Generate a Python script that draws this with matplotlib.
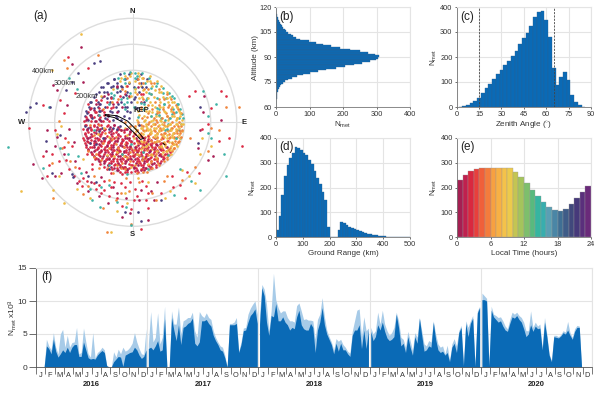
import matplotlib
matplotlib.use('Agg')
import matplotlib.pyplot as plt
from matplotlib.patches import Circle, Polygon
import numpy as np

plt.rcParams['font.family'] = ['Liberation Sans', 'DejaVu Sans']
plt.rcParams['mathtext.fontset'] = 'custom'
plt.rcParams['mathtext.rm'] = 'Liberation Sans'
plt.rcParams['mathtext.default'] = 'rm'

W, H = 600, 393
BLUE = '#0a6ab6'
EDGE = '#2c5f8e'
GRID = '#e4e4e4'
TXT = '#333333'

# ---------- data ----------
alt_bins = list(range(60, 120))
alt_counts = [0,0,0,1,1,2,3,3,4,5,6,8,11,15,20,27,36,48,62,80,102,125,150,178,205,232,258,280,298,305,
              306,295,275,250,220,192,165,140,118,98,72,60,52,44,37,31,26,22,18,14,11,9,7,5,3,2,1,0,0,0]
zen_centers = [2.5,5,7.5,10,12.5,15,17.5,20,22.5,25,27.5,30,32.5,35,37.5,40,42.5,45,47.5,50,52.5,55,57.5,60,62.5,65,67.5,70,72.5,75,77.5,80,82.5,85]
zen_counts = [1,3,8,15,25,38,55,75,92,112,132,150,167,184,203,225,252,277,295,325,360,380,385,347,280,157,90,122,142,108,50,20,7,2]
range_bins = list(range(0, 500, 10))
range_counts = [30,85,168,248,290,320,340,363,358,350,338,333,310,293,265,240,213,180,150,42,0,0,0,28,62,55,48,42,36,32,27,24,20,17,14,11,9,7,5,4,3,2,2,1,1,0,0,0,0,0]
lt_hours = list(range(24))
lt_counts = [231,252,268,276,278,279,278,278,279,279,263,241,217,188,165,140,121,108,105,114,133,157,183,207]
lt_colors = ['#a51f52','#c0204e','#d9283f','#e83f3c','#f0603a','#f47c3c','#f8a040','#f8b044','#f4c24a','#ecca4c','#c4c552','#a4c45c',
             '#7dbf6c','#58ba7e','#36b5a0','#38aeae','#5a9fb4','#4a86a6','#3f6f94','#3f5c88','#40487c','#46397a','#5a2f7c','#6a2a7a']

light_2016 = [0,0,0,0,4.2,3.2,2.6,5.2,3.0,2.0,5.0,5.7,3.0,4.8,3.0,3.7,3.8,6.0,2.0,2.2,5.9,3.8,2.0,1.5,5.2,1.4,2.2,2.5,3.0,2.6,0.3,0,0,2.3,1.5,2.7,2.0,3.0,2.4,2.6,3.0,3.6,5.2,3.8,2.8,2.0,1.9,5.8]
dark_2016 = [0,0,0,0,3.2,2.8,2.0,4.2,2.4,1.5,2.0,2.6,2.2,3.0,2.2,3.0,3.4,3.4,1.6,1.6,3.8,2.6,1.4,1.2,1.3,1.2,1.8,2.2,2.5,2.2,0.2,0,0,0.8,1.2,1.6,1.5,0.1,1.8,2.0,2.2,2.3,3.0,2.6,1.8,1.3,1.6,2.6]
light_2017 = [3.5,8.4,3.8,4.5,8.2,3.5,4.5,9.2,0,0,8.5,6.5,6.5,9.1,5.0,7.0,7.2,7.5,7.5,8.3,5.5,4.5,8.4,7.8,7.5,8.2,7.5,7.2,5.5,4.5,3.8,3.2,3.0,1.8,0,6.6,6.6,6.8,7.5,2.4,3.8,5.9,6.0,8.0,8.9,9.5,10.0,8.0]
dark_2017 = [2.8,3.0,2.6,3.2,4.0,2.4,2.6,7.3,0,0,7.5,5.6,4.0,6.4,3.4,6.0,6.2,6.6,6.8,7.4,3.6,3.2,3.8,7.0,7.0,7.2,6.6,6.2,4.8,4.0,3.4,2.6,2.4,1.4,0,6.4,6.4,6.4,6.6,2.2,3.4,5.5,5.6,6.8,7.8,8.2,8.8,6.6]
light_2018 = [8.0,12.5,11.8,9.5,5.5,8.5,14.2,10.2,9.0,8.2,8.5,8.5,7.5,7.0,7.0,6.8,9.3,9.7,8.5,7.2,7.3,7.1,7.1,7.0,4.2,7.2,8.0,10.5,7.6,5.6,4.6,3.8,2.6,4.3,3.9,4.2,3.4,3.0,2.4,2.1,5.4,7.0,8.6,8.8,4.6,7.6,5.5,5.9]
dark_2018 = [6.5,12.0,10.8,6.8,4.8,7.8,7.6,9.6,7.0,7.0,7.6,6.8,6.4,5.6,6.0,5.8,7.6,8.6,6.4,5.8,5.6,5.6,6.6,6.0,2.2,5.6,6.8,9.0,6.4,5.0,4.2,3.4,2.0,3.6,2.4,3.6,2.6,2.6,2.0,1.6,4.8,5.6,5.6,6.4,2.8,5.6,2.8,5.6]
light_2019 = [6.0,5.0,5.5,8.3,6.5,8.6,6.5,5.5,4.8,5.2,6.0,8.3,7.0,4.5,4.2,3.0,5.4,4.0,2.5,5.2,4.5,7.5,5.5,3.5,3.2,4.0,3.8,7.0,5.0,3.5,3.0,3.2,2.0,3.3,1.0,3.5,4.3,3.2,5.5,6.3,0.4,7.0,6.0,7.0,7.8,0.3,8.5,9.2]
dark_2019 = [5.4,4.0,4.6,6.4,5.6,6.8,5.4,4.4,4.0,4.2,4.6,8.0,6.0,3.2,3.6,2.2,4.6,3.0,1.8,4.6,3.6,7.4,4.8,2.4,2.6,3.2,3.0,6.8,4.2,2.6,2.2,2.4,1.8,2.2,0.8,3.0,3.6,2.2,5.2,6.0,0.2,6.6,4.6,6.6,7.4,0.1,8.2,9.0]
light_2020 = [11.2,10.8,10.4,0.4,9.2,8.0,7.8,7.5,7.6,7.0,6.2,5.8,7.2,8.3,8.0,8.3,7.8,7.5,6.8,5.5,5.5,8.5,6.0,6.8,6.2,6.5,3.0,7.5,5.0,2.0,1.0,4.8,4.8,4.6,4.9,5.5,5.3,6.9,5.2,4.5,5.8,6.3,6.2,0,0,0,0,0]
dark_2020 = [10.2,10.2,10.0,0.2,8.6,7.6,7.2,6.8,7.0,6.2,5.6,5.4,6.6,7.6,7.4,7.8,7.2,6.8,5.8,4.6,5.0,6.4,5.4,6.2,5.8,5.9,2.6,6.8,4.6,1.8,0.8,4.6,4.5,4.4,4.7,5.2,5.0,5.6,4.8,4.2,5.4,6.0,6.0,0,0,0,0,0]
series_light = [light_2016, light_2017, light_2018, light_2019, light_2020]
series_dark = [dark_2016, dark_2017, dark_2018, dark_2019, dark_2020]
years = ['2016', '2017', '2018', '2019', '2020']
months = list('JFMAMJJASOND')

# meteor positions (km east, km north), grouped by local-time colour
maroon = [(-199,291),(-234,224),(-192,156),(-305,143),(-292,124),(-253,67),(-330,-30),(-300,-90),(-265,-120),(-220,-150),(-180,-190),(-120,-210),(-60,-270),(30,-260),(80,-300),(-10,-350),(-170,-265),(-95,-310),(250,-100),(290,-145),(270,40),
 (-20,-180),(-55,-160),(-90,-140),(-120,-110),(-150,-70),(-175,-25),(-160,30),(-130,70),(-95,110),(-60,140),(-150,-110),(-130,-150),(-95,-165),(-60,-185),(-30,-60),(-10,-90),(15,-120),(45,-150),(75,-160),(100,-125),(130,-95),
 (-75,-95),(-105,-60),(-125,-25),(-85,-35),(-60,-70),(-35,-110),(-5,-140),(20,-165),(50,-175),(-140,-40),(-115,-130),(-80,-120),(-50,-130),(-25,-150),(5,-175),(35,-130),(65,-110),(90,-85),(-45,-30),(-20,-25),(-70,-10),(-180,10),(-165,-55),(-150,-95),(-100,-90),(-40,-90),(-15,-115),(10,-95),
 (-165,50),(-175,-60),(-110,-150),(-70,-175),(-40,-170),(30,-185),(60,-140),(-130,-85),(-90,-75),(-120,5),(-145,5),(-60,40),(-40,60),(-15,-60),(-10,-35),(25,-75),(55,-85),(85,-60),
 (-385,-160),(-350,-215),(-300,-205),(-275,-195),(-215,-235),(-160,-230),(-130,-285),(-75,-250),(-25,-290),(25,-300),(70,-265),(95,-230),(-40,-365),(60,-375),(-335,-110),(-290,-55),(-245,-25),(-225,-75),(310,-130),(340,10),(275,100),(260,-30)]
red = [(-247,252),(-170,207),(-221,111),(-346,67),(-279,86),(-266,35),(-400,-20),(-310,-120),(-285,-150),(-245,-180),(-205,-175),(-190,-215),(-150,-235),(-110,-260),(-70,-230),(-30,-250),(10,-255),(50,-245),(-40,-320),(5,-300),(60,-330),(-130,-240),(-90,-285),(-225,-205),(-260,-60),(-235,-90),(240,120),(360,100),(330,-70),(210,-190),(155,-250),(200,-290),(420,-90),(290,-5),
 (-185,-40),(-170,-75),(-155,-120),(-130,-125),(-110,-170),(-75,-150),(-45,-150),(-15,-160),(15,-150),(40,-165),(70,-135),(95,-150),(125,-120),(-178,-10),(-150,-15),(-120,-45),(-95,-75),(-70,-60),(-50,-110),(-30,-130),(0,-115),(25,-100),(50,-120),(80,-115),(110,-105),(-130,-65),(-105,-105),(-85,-130),(-60,-140),(-20,-95),(-5,-75),(20,-140),(45,-100),
 (-165,-95),(-145,-140),(-125,-160),(-100,-180),(-78,-178),(-50,-190),(-22,-190),(8,-188),(35,-178),(62,-168),(90,-170),(115,-135),(145,-115),(-190,-60),(-160,20),(-140,40),(-110,30),(-135,-5),(-100,-15),(-75,-40),(-55,-50),(-40,-65),(-25,-75),(10,-45),(35,-55),(60,-65),(85,-100),(105,-85),(135,-70),(-160,-30),(-145,-60),(-120,-90),(-95,-115),(-70,-105),(-45,-80),(-25,-115),(5,-130),(30,-115),(55,-150),(75,-95),(-120,85),(-85,95),(-50,100),(-75,60),(-100,60),(-140,85),(-20,140),(30,110),(-170,70),(-40,-200),(-85,-195),
 (-155,-160),(-175,-120),(-135,-100),(-110,-70),(-82,-88),(-62,-118),(-38,-140),(-12,-130),(12,-108),(38,-85),(68,-82),(95,-70),(118,-60),(-148,-78),(-125,-115),(-102,-140),(-92,-155),(-68,-160),(-32,-170),(-2,-165),(28,-155),(48,-135),(82,-140),
 (-345,-130),(-320,-165),(-255,-145),(-300,-30),(-265,-95),(-330,-205),(-195,-245),(-205,-225),(-175,-225),(-140,-255),(-110,-225),(-85,-250),(-45,-235),(-10,-230),(15,-285),(35,-225),(60,-270),(-120,-270),(-60,-290),(-5,-335),(50,-300),(30,-410),(-155,-180),(150,-205),(180,-240),(110,-270),(255,-195),(370,-60),(300,55),(265,-25),(215,100),(340,120)]
orange = [(-253,207),(-132,258),(-266,239),(-305,-290),(-270,-100),(-240,-150),(-190,-275),(-150,-205),(-90,-220),(-45,-270),(25,-230),(75,-270),(-115,-330),(-5,-390),(-100,-420),(360,60),(220,-60),(240,-170),(190,-220),(120,-225),(330,-30),
 (120,-40),(140,-60),(150,-20),(170,-40),(105,-20),(85,-35),(65,-45),(40,-30),(25,-55),(110,-65),(130,-30),(150,-80),(100,-95),(70,-70),(45,-75),(20,-80),(-10,-115),(-35,-95),(-65,-85),(-90,-100),(-115,-80),(-140,-120),(-45,-175),(-10,-150),(25,-125),(55,-105),(80,-75),(115,-80),(60,-125),(35,-145),(5,-105),(-20,-135),(-55,-100),(-80,-65),(-105,-40),(-130,-10),(-150,-50),(-170,-110),(-120,-145),(-95,-175),(-60,-165),(-30,-180),(10,-165),(40,-190),(75,-175),(100,-165),(130,-135),
 (160,-100),(175,-75),(100,40),(130,25),(85,80),(120,90),(60,130),(80,150),(30,60),(55,20),(90,10),(135,60),(155,40),(20,165),(40,150),(-30,120),(-80,80),(-115,50),(-165,-10),(-10,-15),(15,-30),(-150,-135),(-130,-175),(-75,-195),(15,-195),(55,-190),(95,-140),(120,-150),(70,-150),(90,-120),(120,-10),(140,-45),(160,-55),(175,-15),(180,-35),(30,-10),(60,-5),(85,-5),(110,-45),(95,-55),
 (-285,5),(-250,-75),(-310,-155),(-220,-170),(-170,-245),(-65,-300),(-25,-215),(-15,-265),(90,-300),(300,-20),(290,-110),(130,-205),(410,60)]
yellow = [(-305,-260),(-215,-255),(-165,-290),(-310,200),(-265,-310),(-190,-140),(-60,-340),(60,-230),(125,-290),(190,-185),(260,-120),(300,-90),(145,-265),(20,-215),(-85,-420),(-430,-265),(-200,340),(-20,-310),
 (10,-20),(35,-20),(60,-30),(80,-20),(100,-10),(125,-15),(145,-5),(165,-25),(185,-5),(170,15),(150,25),(125,40),(105,60),(75,40),(50,45),(25,30),(45,5),(70,5),(95,-45),(120,-55),(140,-75),(155,-40),(135,-10),(110,5),(90,25),(75,65),(60,95),(40,125),(10,130),(25,95),(-5,100),(-15,155),(35,170),(65,160),(85,125),(110,115),(130,95),(150,80),(170,60),(180,35),
 (125,-90),(95,-110),(75,-125),(50,-90),(30,-70),(5,-60),(-20,-50),(40,-135),(60,-160),(90,-135),(-60,-115),(-90,-55),(-110,-20),(-35,-130),(-70,-130),(-100,-125),(-135,-45),(-120,100),(-75,130),(-45,170),(-10,180),(145,-105),(115,-115),(160,-85),(70,-40),(50,-15),(20,-50),(100,-30),(150,-55),(130,-50),(115,-25),(85,-55),(60,-85),(40,-45),(78,-8),(92,-70),(108,-90),(130,-110),(148,-30),(165,-5),(68,-25),(38,-95),(18,-120),(-5,-170),
 (-275,-15),(-285,-205),(-290,-45),(240,-235),(215,-205),(265,-60),(-30,-270)]
teal = [(-480,-95),(-320,60),(-215,130),(-250,-120),(-200,-195),(-125,-325),(-60,-305),(-155,-300),(-5,-395),(320,70),(270,120),(360,-205),(260,-260),(350,-120),(180,-180),(160,-280),(290,-40),(-280,-100),
 (100,30),(125,10),(145,15),(165,40),(175,70),(150,100),(120,70),(95,95),(70,110),(50,85),(30,75),(5,60),(-20,80),(-45,90),(-70,105),(-90,70),(-30,50),(20,20),(70,25),(95,55),(130,-25),(-10,195),(15,180),(-35,165),(90,140),(-40,-120),(-5,-85),(40,-115),(-90,-165),(-150,-30),(-130,30),(165,-60),(135,-125),(60,-180),(-20,-197),
 (-345,-175),(-210,-130),(-120,-250),(-90,-240),(-25,-325),(290,25),(300,-60),(225,-225),(-165,-255),(-245,170)]
blue = [(-371,75),(-150,227),(-125,237),(-209,191),(-317,60),(-280,-50),(-230,-210),(-170,-205),(-90,-180),(-30,-345),(110,-300),(260,60),(250,-80),(-410,40),
 (-165,80),(-140,110),(-115,135),(-95,150),(-70,165),(-50,120),(-25,105),(-55,70),(-80,40),(-105,15),(-130,-35),(-165,-80),(-10,40),(15,55),(35,135),(-150,55),(-125,70),(-100,95),(-75,140),(-45,140),(-20,60),(5,90),(-110,115),(-130,45),(-155,15),(-175,35),(-185,-15),(-90,-25),(-60,15),(-35,25),(-15,15),(25,-10),(-50,-15),(-75,-20),(-115,-60),(-140,-85),(-60,-25),
 (-335,-70),(-235,-200),(-140,-230),(20,-345),(30,-380),(-310,-195),(-235,155),(-395,60),(-255,125)]

# further meteors in the dense inner disk: north km -> list of east km
red_rows = {-190:[-30,-8,22], -176:[-62,-38,-15,12,48,70], -163:[-95,-72,-48,-5,33,58,88],
 -149:[-125,-105,-82,-60,-28,3,26,52,72,110], -136:[-140,-118,-92,-72,-42,-12,18,42,66,92,122],
 -122:[-155,-135,-112,-88,-66,-40,-18,8,32,55,78,105,130], -108:[-170,-145,-122,-98,-75,-52,-26,-2,22,45,68,92,118,140],
 -94:[-178,-158,-132,-108,-82,-58,-34,-12,14,36,60,84,102,128], -81:[-185,-165,-142,-118,-95,-70,-46,-20,6,28,52,76,108],
 -67:[-188,-160,-135,-110,-85,-62,-38,-14,16,44,72], -53:[-180,-155,-125,-100,-78,-50,-28,2,30,58],
 -39:[-172,-148,-118,-92,-65,-35,-12], -25:[-190,-160,-132,-105,-80,-52,-25], -11:[-182,-150,-122,-96,-70],
 5:[-188,-160,-140,-115,-92], 22:[-178,-150,-125], 38:[-170,-145,-110], 55:[-160,-130,-85], 80:[-100,-60,30], 110:[-30,40]}
maroon_rows = {-183:[-55,-20,15,45], -170:[-85,-50,-28,5,38,72], -156:[-112,-85,-58,-30,12,45,80,105],
 -143:[-132,-100,-75,-50,-18,10,35,60,95,118], -129:[-150,-125,-98,-58,-30,2,25,50,85,110],
 -115:[-160,-128,-105,-78,-55,-32,15,38,62,98], -101:[-172,-138,-112,-85,-62,-15,10,55,80,105],
 -87:[-180,-150,-125,-100,-75,-48,-25,20,45,70,95], -73:[-176,-145,-120,-92,-68,-42,-8,25,58],
 -59:[-170,-138,-112,-88,-55,-20,12,42], -45:[-185,-160,-128,-82,-58,-15], -31:[-175,-140,-112,-62,-35],
 -17:[-165,-138,-88,-58], 12:[-175,-128,-100], 30:[-165,-135,-95], 48:[-150,-118], 70:[-140,-75], 100:[-110,-15], 135:[-60,20]}
orange_rows = {-178:[-25,30,62], -158:[-40,20,70,98], -140:[-20,50,85,130], -126:[-80,0,72,120,140], -112:[-60,20,85,128,150],
 -98:[-88,-5,50,112,145,160], -84:[-30,35,90,125,155,168], -70:[15,55,100,132,162,178], -56:[-65,48,78,112,145,172,185],
 -42:[5,30,68,95,125,158,180], -28:[-45,18,50,82,108,142,170,190], -14:[10,38,72,98,132,158,185], 2:[-30,22,62,92,120,152,178],
 18:[35,80,112,140,172], 34:[58,92,128,160,185], 50:[30,75,115,148,175], 68:[60,100,138,165], 88:[-55,40,100,148], 108:[15,70,130], 128:[-40,45,100], 150:[25,70], 172:[-20,40]}
yellow_rows = {-120:[-40,70,110,148], -104:[30,75,135,155], -90:[12,70,110,148,170], -76:[40,85,120,150,175], -62:[-15,62,92,130,160,182],
 -48:[28,58,85,118,150,178], -34:[12,42,72,100,135,165,188], -20:[-28,30,55,88,115,148,178], -6:[22,50,80,112,142,172,192],
 10:[15,48,78,105,135,165,190], 26:[45,70,100,130,158,182], 42:[20,62,92,120,148,178], 60:[48,85,115,150,170], 78:[18,65,105,135,160],
 98:[-15,35,82,118,145], 118:[8,52,100,130], 140:[-25,30,75,110], 160:[-50,10,55,92], 178:[-30,25,68], 190:[-8,20]}
teal_rows = {-60:[165,180], -30:[125,178], -5:[135,185], 15:[110,178,192], 32:[90,150,188], 52:[40,100,155,182], 72:[-35,42,120,172],
 92:[-75,-20,55,128,158], 112:[-85,-10,62,115,140], 132:[-60,10,70,118], 152:[-30,48,95], 172:[-55,8,62], 188:[-35,10,35]}
blue_rows = {-20:[-170,-118], 8:[-170,-125,-75,-45], 25:[-185,-160,-95,-65], 42:[-178,-125,-88,-55,-20], 60:[-168,-135,-105,-65,-30,10],
 78:[-160,-132,-88,-45,-5,45], 96:[-150,-118,-82,-38,10], 116:[-128,-98,-62,-22,25], 134:[-120,-82,-42,5,50], 150:[-100,-60,-15,30],
 168:[-72,-30,15,55], 184:[-50,-15,30]}
row_layers = [blue_rows, teal_rows, yellow_rows, orange_rows, maroon_rows, red_rows]
row_colors = ['#4a3f80', '#3fb3a6', '#eebc46', '#f0853c', '#a81e55', '#dc2b45']

groups = [maroon, red, orange, yellow, teal, blue]
group_colors = ['#a81e55', '#dc2b45', '#f0853c', '#eebc46', '#3fb3a6', '#4a3f80']
track_e = [-106, -60, -20, 15, 42, 30, 5, -30, -70, -106]
track_n = [30, 25, 5, -30, -62, -66, -40, -5, 18, 26]
range_rings = [200, 300, 400]

# ---------- helpers ----------
fig = plt.figure(figsize=(W / 100, H / 100), dpi=100)

def box(x0, y0, x1, y1):
    return fig.add_axes([x0 / W, 1 - y1 / H, (x1 - x0) / W, (y1 - y0) / H])

def style(ax):
    ax.grid(True, color=GRID, lw=0.8)
    ax.set_axisbelow(True)
    for s in ('top', 'right'):
        ax.spines[s].set_color(GRID)
        ax.spines[s].set_linewidth(0.8)
    for s in ('left', 'bottom'):
        ax.spines[s].set_color('#777777')
        ax.spines[s].set_linewidth(0.6)
    ax.tick_params(labelsize=5.3, length=1.5, width=0.5, pad=1.5, colors=TXT)

def plabel(text, x, y):
    fig.text(x / W, 1 - y / H, text, fontsize=8.5, color='#222222', ha='left', va='center')

# ---------- (a) ----------
ax = box(0, 0, 250, 250)
k = 0.26
ax.set_xlim(-132.7 / k, 117.3 / k)
ax.set_ylim(-127.7 / k, 122.3 / k)
ax.axis('off')
for r in range_rings:
    ax.add_patch(Circle((0, 0), r, fill=False, ec='#dddddd', lw=1.0, zorder=1))
ax.plot([-415, 415], [0, 0], color='#dddddd', lw=0.8, zorder=1)
ax.plot([0, 0], [-415, 415], color='#dddddd', lw=0.8, zorder=1)
for rows, c in zip(row_layers, row_colors):
    e = [v for east in rows.values() for v in east]
    n = [north for north, east in rows.items() for _ in east]
    ax.scatter(e, n, s=3.6, color=c, lw=0, zorder=2)
for pts, c in zip(groups, group_colors):
    e, n = zip(*pts)
    ax.scatter(e, n, s=3.6, color=c, lw=0, zorder=2)
ax.add_patch(Polygon(list(zip(track_e, track_n)), fill=False, ec='black', lw=0.7, zorder=3))
ax.plot([116, 124], [-80, -87], color='black', lw=0.7, zorder=3)
ax.text(35, 47, 'KEP', fontsize=5.5, weight='bold', color='#222222', ha='center', va='center', zorder=4)
for t, x, y in [('400km', -345, 197), ('300km', -260, 150), ('200km', -175, 98)]:
    ax.text(x, y, t, fontsize=5.3, color=TXT, ha='center', va='center', zorder=4)
for t, x, y in [('N', 0, 427), ('S', 0, -432), ('W', -428, 0), ('E', 427, 0)]:
    ax.text(x, y, t, fontsize=5.5, weight='bold', color='#222222', ha='center', va='center', zorder=4)
plabel('(a)', 33, 16)

# ---------- (b) ----------
ax = box(276, 7, 410, 107)
ax.barh(alt_bins, alt_counts, height=1, align='edge', color=BLUE, edgecolor=EDGE, lw=0.25)
ax.set_xlim(0, 400); ax.set_ylim(60, 120)
ax.set_xticks(range(0, 401, 100)); ax.set_yticks(range(60, 121, 15))
style(ax)
ax.set_xlabel(r'N$_{\mathrm{met}}$', fontsize=5.8, labelpad=1, color=TXT)
ax.set_ylabel('Altitude (km)', fontsize=5.8, labelpad=0, color=TXT)
plabel('(b)', 279, 17)

# ---------- (c) ----------
ax = box(456.7, 7, 591, 107)
ax.bar(zen_centers, zen_counts, width=2.5, color=BLUE, edgecolor=EDGE, lw=0.25)
ax.set_xlim(0, 90); ax.set_ylim(0, 400)
ax.set_xticks(range(0, 91, 15)); ax.set_yticks(range(0, 401, 100))
style(ax)
for v in (15, 65):
    ax.axvline(v, color='#444444', lw=0.6, ls=(0, (2.5, 1.5)))
ax.set_xlabel('Zenith Angle ($^{\\circ}$)', fontsize=5.8, labelpad=1, color=TXT)
ax.set_ylabel(r'N$_{\mathrm{met}}$', fontsize=5.8, labelpad=1, color=TXT)
plabel('(c)', 460, 17)

# ---------- (d) ----------
ax = box(276, 138, 410, 237)
ax.bar(range_bins, range_counts, width=10, align='edge', color=BLUE, edgecolor=EDGE, lw=0.25)
ax.set_xlim(0, 500); ax.set_ylim(0, 400)
ax.set_xticks(range(0, 501, 100)); ax.set_yticks(range(0, 401, 100))
style(ax)
ax.set_xlabel('Ground Range (km)', fontsize=5.8, labelpad=1, color=TXT)
ax.set_ylabel(r'N$_{\mathrm{met}}$', fontsize=5.8, labelpad=1, color=TXT)
plabel('(d)', 279, 147)

# ---------- (e) ----------
ax = box(457, 138, 591, 237)
ax.bar(lt_hours, lt_counts, width=1, align='edge', color=lt_colors, edgecolor='#9a9a9a', lw=0.25)
ax.set_xlim(0, 24); ax.set_ylim(0, 400)
ax.set_xticks(range(0, 25, 6)); ax.set_yticks(range(0, 401, 100))
style(ax)
ax.set_xlabel('Local Time (hours)', fontsize=5.8, labelpad=1, color=TXT)
ax.set_ylabel(r'N$_{\mathrm{met}}$', fontsize=5.8, labelpad=1, color=TXT)
plabel('(e)', 460, 147)

# ---------- (f) ----------
ax = box(36, 268, 592, 367)
for y, (lv, dv) in enumerate(zip(series_light, series_dark)):
    n = len(lv)
    xs = y + (np.arange(n) + 0.5) / n
    ax.fill_between(xs, 0, lv, color='#a7cbe8', lw=0)
    ax.fill_between(xs, 0, dv, color=BLUE, lw=0)
ax.set_xlim(0, 5); ax.set_ylim(0, 15)
ax.set_yticks([0, 5, 10, 15])
ax.set_xticks(range(6))
ax.set_xticks(np.arange(61) / 12, minor=True)
ax.set_xticklabels([])
ax.grid(True, color=GRID, lw=0.8)
ax.set_axisbelow(True)
for s in ('top', 'right'):
    ax.spines[s].set_color(GRID); ax.spines[s].set_linewidth(0.8)
for s in ('left', 'bottom'):
    ax.spines[s].set_color('#555555'); ax.spines[s].set_linewidth(0.6)
ax.tick_params(axis='y', labelsize=6, length=5, width=0.5, pad=1.5, colors=TXT)
ax.tick_params(axis='x', which='both', length=5, width=0.5, colors='#444444')
tr = ax.get_xaxis_transform()
for y in range(5):
    for m, name in enumerate(months):
        ax.text(y + (m + 0.5) / 12, -0.085, name, transform=tr, fontsize=5.3, color=TXT, ha='center', va='center')
    ax.text(y + 0.5, -0.18, years[y], transform=tr, fontsize=5.5, weight='bold', color='#222222', ha='center', va='center')
ax.set_ylabel(r'N$_{\mathrm{met}}$ x10$^{3}$', fontsize=6, labelpad=-1, color=TXT)
plabel('(f)', 41, 277)

fig.savefig('out.png', dpi=100)
